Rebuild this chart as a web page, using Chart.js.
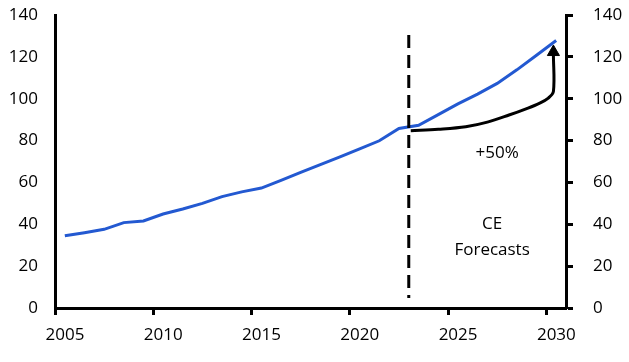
<!DOCTYPE html>
<html>
<head>
<meta charset="utf-8">
<script src="https://cdn.jsdelivr.net/npm/chart.js@4.4.0/dist/chart.umd.min.js"></script>
<style>
    html, body { margin: 0; padding: 0; background: #fff; }
</style>
</head>
<body>
<canvas id="myChart" width="629" height="362"></canvas>
<script>
// annual values, plotted mid-year
var years = [2005, 2006, 2007, 2008, 2009, 2010, 2011, 2012, 2013, 2014, 2015, 2016, 2017,
             2018, 2019, 2020, 2021, 2022, 2023, 2024, 2025, 2026, 2027, 2028, 2029, 2030];
var values = [34.5, 36.0, 37.6, 40.8, 41.6, 44.9, 47.3, 50.0, 53.2, 55.5, 57.3, 61.0, 64.8,
              68.5, 72.2, 76.0, 79.9, 85.8, 87.3, 92.4, 97.5, 102.2, 107.3, 113.8, 120.8, 127.8];

// forecast divider
var forecastYear = 2023;
var dividerRange = [130.4, 4.8];

// "+50%" arrow path
var arrowX = [2023.1, 2024.5, 2025.9, 2027.0, 2028.1, 2029.0, 2029.64, 2030.1, 2030.36, 2030.36];
var arrowY = [84.7, 85.4, 86.6, 88.8, 92.2, 95.3, 97.8, 100.3, 103.5, 121];
var arrowTip = [2030.36, 122.3];

var xTicks = [2005, 2010, 2015, 2020, 2025, 2030];
var yTicks = [0, 20, 40, 60, 80, 100, 120, 140];

var FONT = "'Open Sans', sans-serif";

var ctx = document.getElementById('myChart').getContext('2d');

var series = years.map(function (yr, i) { return { x: yr + 0.5, y: values[i] }; });
var arrowData = arrowX.map(function (x, i) { return { x: x, y: arrowY[i] }; });
var dividerData = dividerRange.map(function (v) { return { x: forecastYear, y: v }; });

/* text labels drawn in data coordinates */
var notes = [
    { text: '+50%', x: 2027.5, y: 74.2 },
    { text: 'CE', x: 2027.24, y: 40 },
    { text: 'Forecasts', x: 2027.24, y: 27.7 }
];

var notePlugin = {
    id: 'notes',
    afterDatasetsDraw: function (chart) {
        var c = chart.ctx;
        var xs = chart.scales.x, ys = chart.scales.y;
        c.save();
        c.fillStyle = '#000';
        c.font = '17px ' + FONT;
        c.textAlign = 'center';
        c.textBaseline = 'middle';
        notes.forEach(function (n) {
            c.fillText(n.text, xs.getPixelForValue(n.x), ys.getPixelForValue(n.y));
        });
        c.restore();
    }
};

var tickFont = { family: FONT, size: 17 };

// fixed axis boxes so the plot area lands where the original one is
function fixY(w) {
    return function (s) { s.width = w; s.paddingTop = 0; s.paddingBottom = 0; };
}

var myChart = new Chart(ctx, {
    type: 'line',
    data: {
        datasets: [
            {
                data: [{ x: arrowTip[0], y: arrowTip[1] }],
                showLine: false,
                pointStyle: 'triangle',
                pointRadius: 7,
                backgroundColor: '#000',
                borderColor: '#000',
                borderWidth: 1
            },
            {
                data: arrowData,
                borderColor: '#000',
                borderWidth: 3,
                pointRadius: 0,
                tension: 0.35
            },
            {
                data: dividerData,
                borderColor: '#000',
                borderWidth: 3,
                borderDash: [13, 7],
                pointRadius: 0
            },
            {
                data: series,
                borderColor: '#2359d1',
                borderWidth: 3,
                pointRadius: 0,
                tension: 0
            }
        ]
    },
    options: {
        responsive: false,
        animation: false,
        layout: { padding: { top: 15, left: 0, right: 0, bottom: 0 } },
        plugins: { legend: { display: false }, tooltip: { enabled: false } },
        scales: {
            x: {
                type: 'linear',
                min: 2005,
                max: 2031,
                afterFit: function (s) { s.height = 54; },
                afterBuildTicks: function (s) { s.ticks = xTicks.map(function (v) { return { value: v }; }); },
                grid: { drawOnChartArea: false, drawTicks: true, tickLength: 7, tickWidth: 3, tickColor: '#000', color: '#000' },
                border: { display: true, color: '#000', width: 3 },
                ticks: { color: '#000', font: tickFont, padding: 10, labelOffset: 10, maxRotation: 0,
                    callback: function (v) { return String(v); } }
            },
            y: {
                position: 'left',
                min: 0,
                max: 140,
                afterFit: fixY(55),
                afterBuildTicks: function (s) { s.ticks = yTicks.map(function (v) { return { value: v }; }); },
                grid: { display: false, drawTicks: false },
                border: { display: true, color: '#000', width: 3 },
                ticks: { color: '#000', font: tickFont, padding: 17 }
            },
            y2: {
                position: 'right',
                min: 0,
                max: 140,
                afterFit: fixY(63),
                afterBuildTicks: function (s) { s.ticks = yTicks.map(function (v) { return { value: v }; }); },
                grid: { drawOnChartArea: false, drawTicks: true, tickLength: 7, tickWidth: 3, tickColor: '#000', color: '#000' },
                border: { display: true, color: '#000', width: 3 },
                ticks: { color: '#000', font: tickFont, padding: 20 }
            }
        }
    },
    plugins: [notePlugin]
});
</script>
</body>
</html>
